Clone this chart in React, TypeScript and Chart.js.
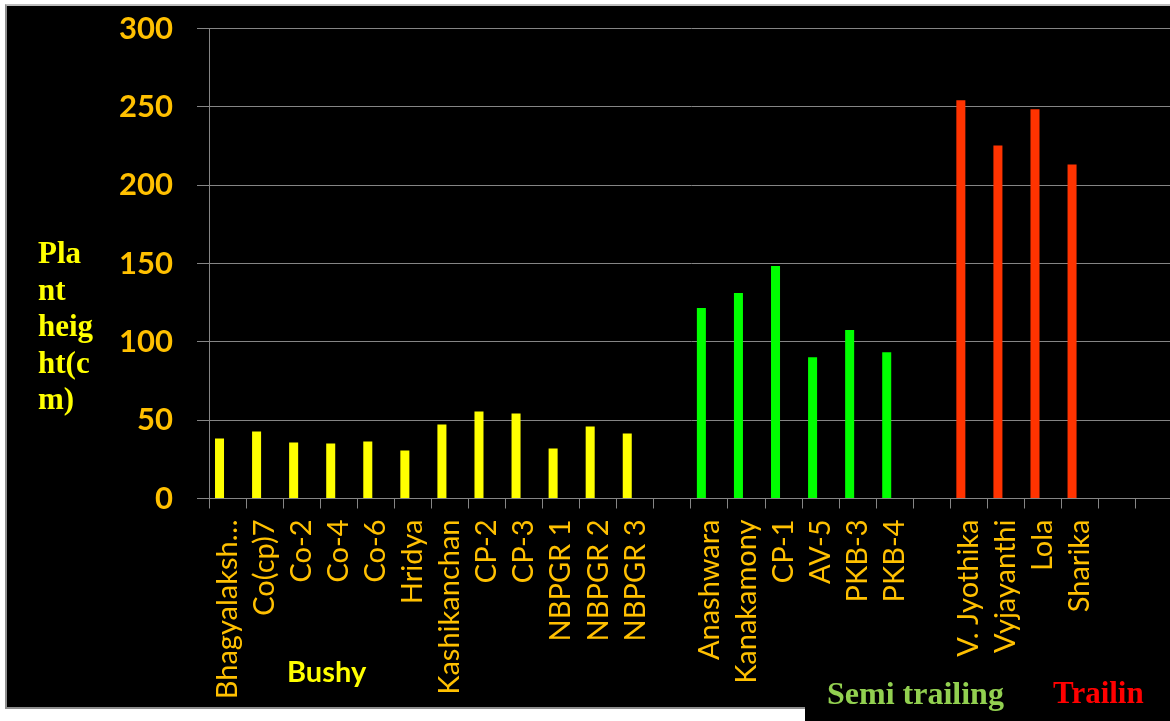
import React, { useEffect, useRef } from 'react';
import { Chart, registerables } from 'chart.js';

Chart.register(...registerables);

// Plant height (cm) of cowpea varieties by growth habit
const bushyVarieties = ['Bhagyalaksh…', 'Co(cp)7', 'Co-2', 'Co-4', 'Co-6', 'Hridya', 'Kashikanchan', 'CP-2', 'CP-3', 'NBPGR 1', 'NBPGR 2', 'NBPGR 3'];
const bushyHeights = [38.3, 42.7, 35.7, 35.1, 36.4, 30.6, 47.2, 55.6, 54.3, 31.9, 46.0, 41.5];

const semiTrailingVarieties = ['Anashwara', 'Kanakamony', 'CP-1', 'AV-5', 'PKB-3', 'PKB-4'];
const semiTrailingHeights = [121.6, 131.2, 148.5, 90.2, 107.5, 93.4];

const trailingVarieties = ['V. Jyothika', 'Vyjayanthi', 'Lola', 'Sharika'];
const trailingHeights = [254.3, 225.4, 248.5, 213.3];

const yMin = 0;
const yMax = 300;
const yStep = 50;

const BUSHY_COLOR = '#FFFF00';
const SEMI_COLOR = '#00FF00';
const TRAILING_COLOR = '#FF3300';
const TICK_COLOR = '#FFC000';
const GRID_COLOR = '#858585';

// canvas is slightly larger than the panel so the plot area reaches its right edge
const CANVAS_LEFT = 0;
const CANVAS_TOP = -14;
const CANVAS_WIDTH = 1200;
const CANVAS_HEIGHT = 735;

export default function App() {
  const canvasRef = useRef<HTMLCanvasElement | null>(null);

  useEffect(() => {
    const canvas = canvasRef.current;
    if (!canvas) return;

    // blank categories separate the three growth-habit groups
    const labels = [...bushyVarieties, '', ...semiTrailingVarieties, '', ...trailingVarieties, '', ''];
    const values = [...bushyHeights, null, ...semiTrailingHeights, null, ...trailingHeights, null, null];
    const colors = [
      ...bushyHeights.map(() => BUSHY_COLOR),
      'transparent',
      ...semiTrailingHeights.map(() => SEMI_COLOR),
      'transparent',
      ...trailingHeights.map(() => TRAILING_COLOR),
      'transparent',
      'transparent',
    ];

    const chart = new Chart(canvas, {
      type: 'bar',
      data: {
        labels,
        datasets: [
          {
            label: 'Plant height (cm)',
            data: values,
            backgroundColor: colors,
            borderWidth: 0,
            categoryPercentage: 0.865,
            barPercentage: 0.5625,
          },
          {
            label: 'spare',
            data: labels.map(() => null),
            backgroundColor: 'transparent',
            categoryPercentage: 0.865,
            barPercentage: 0.5625,
          },
        ],
      },
      options: {
        responsive: false,
        animation: false,
        layout: { padding: { left: 0, right: 0, top: 28, bottom: 0 } },
        plugins: {
          legend: { display: false },
          tooltip: { enabled: false },
          title: { display: false },
        },
        scales: {
          x: {
            type: 'category',
            grid: {
              display: true,
              drawOnChartArea: false,
              drawTicks: true,
              tickLength: 10,
              color: GRID_COLOR,
              lineWidth: 1,
            },
            border: { display: true, color: GRID_COLOR, width: 1 },
            ticks: {
              autoSkip: false,
              maxRotation: 90,
              minRotation: 90,
              padding: 11,
              color: TICK_COLOR,
              font: { family: 'Lato', size: 29, weight: 'normal' },
            },
            afterFit: (scale: any) => {
              scale.height = 222.5;
            },
          },
          y: {
            min: yMin,
            max: yMax,
            grid: {
              color: GRID_COLOR,
              lineWidth: 1,
              drawTicks: true,
              tickLength: 12,
            },
            border: { display: true, color: GRID_COLOR, width: 1 },
            ticks: {
              stepSize: yStep,
              padding: 24,
              color: TICK_COLOR,
              font: { family: 'Lato', size: 31, weight: 'bold' },
            },
            afterFit: (scale: any) => {
              scale.width = 209;
            },
          },
        },
      },
    });

    return () => chart.destroy();
  }, []);

  const serifBold: React.CSSProperties = {
    position: 'absolute',
    fontFamily: '"Liberation Serif", "Times New Roman", serif',
    fontWeight: 'bold',
    whiteSpace: 'nowrap',
    lineHeight: 1,
  };

  return (
    <div style={{ position: 'absolute', left: 0, top: 0, width: 1170, height: 721, background: '#ffffff', overflow: 'hidden' }}>
      {/* black plot panel */}
      <div
        style={{
          position: 'absolute',
          left: 5,
          top: 4,
          width: 1170,
          height: 701,
          background: '#000000',
          borderLeft: '2px solid #8f8f8f',
          borderTop: '2px solid #bdbdbd',
          borderBottom: '2px solid #8f8f8f',
          boxSizing: 'content-box',
        }}
      />
      {/* group caption box */}
      <div style={{ position: 'absolute', left: 805, top: 670, width: 365, height: 51, background: '#000000' }} />

      <canvas
        ref={canvasRef}
        width={CANVAS_WIDTH}
        height={CANVAS_HEIGHT}
        style={{ position: 'absolute', left: CANVAS_LEFT, top: CANVAS_TOP }}
      />

      {/* axis title */}
      <div style={{ ...serifBold, left: 38, top: 235, fontSize: 31, lineHeight: '36.6px', color: '#FFFF00', whiteSpace: 'pre' }}>
        {'Pla\nnt\nheig\nht(c\nm)'}
      </div>

      {/* group captions */}
      <div
        style={{
          position: 'absolute',
          left: 287,
          top: 656,
          fontFamily: 'Lato',
          fontWeight: 'bold',
          fontSize: 29,
          lineHeight: 1,
          color: '#FFFF00',
          whiteSpace: 'nowrap',
        }}
      >
        Bushy
      </div>
      <div style={{ ...serifBold, left: 827, top: 677, fontSize: 32, color: '#92D050' }}>Semi trailing</div>
      <div style={{ ...serifBold, left: 1053, top: 677, fontSize: 31, color: '#FF0000' }}>Trailin</div>
    </div>
  );
}
